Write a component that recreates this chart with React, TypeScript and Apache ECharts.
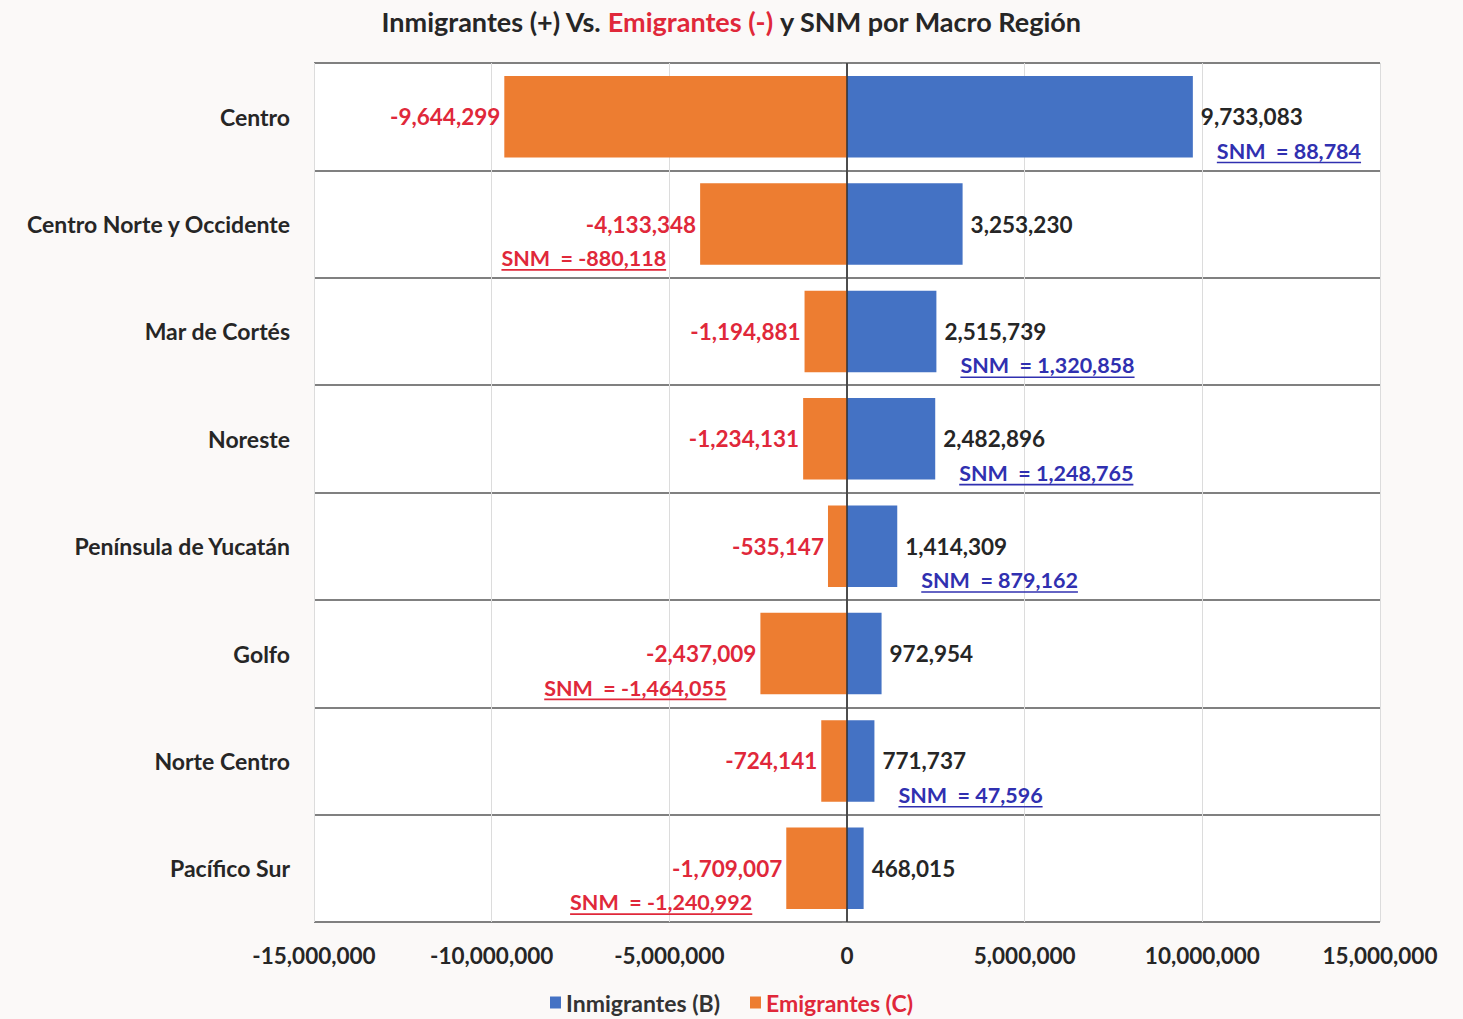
import React, { useEffect, useRef } from "react";
import * as echarts from "echarts";

const categories = [
  "Centro",
  "Centro Norte y Occidente",
  "Mar de Cortés",
  "Noreste",
  "Península de Yucatán",
  "Golfo",
  "Norte Centro",
  "Pacífico Sur",
];
const inmigrantes = [9733083, 3253230, 2515739, 2482896, 1414309, 972954, 771737, 468015];
const emigrantes = [-9644299, -4133348, -1194881, -1234131, -535147, -2437009, -724141, -1709007];
const snm = [88784, -880118, 1320858, 1248765, 879162, -1464055, 47596, -1240992];
const xTicks = [-15000000, -10000000, -5000000, 0, 5000000, 10000000, 15000000];

const FONT = "Lato, 'Noto Sans', sans-serif";
const BLUE = "#4472C4";
const ORANGE = "#ED7D31";
const RED = "#E0283A";
const SNM_BLUE = "#3030B0";

const fmt = (v: number) => (v < 0 ? "-" : "") + Math.abs(Math.round(v)).toLocaleString("en-US");

let measureCtx: CanvasRenderingContext2D | null = null;
function textWidth(text: string, font: string) {
  if (!measureCtx) measureCtx = document.createElement("canvas").getContext("2d");
  if (!measureCtx) return text.length * 11;
  measureCtx.font = font;
  return measureCtx.measureText(text).width;
}

export default function App() {
  const ref = useRef<HTMLDivElement>(null);

  useEffect(() => {
    document.body.style.margin = "0";
    document.body.style.overflow = "hidden";
    if (!ref.current) return;
    const chart = echarts.init(ref.current, null, { renderer: "svg" });

    const snmData = snm.map((s, i) => [s >= 0 ? inmigrantes[i] : emigrantes[i], i, s]);

    const option: any = {
      animation: false,
      backgroundColor: "#fbf9f8",
      title: {
        left: "center",
        top: 3,
        text: "{a|Inmigrantes (+) Vs. }{b|Emigrantes (-)}{a| y SNM por Macro Región}",
        textStyle: {
          rich: {
            a: { fontFamily: FONT, fontSize: 27, fontWeight: "bold", color: "#262626" },
            b: { fontFamily: FONT, fontSize: 27, fontWeight: "bold", color: RED },
          },
        },
      },
      legend: {
        bottom: 0,
        left: "center",
        icon: "rect",
        itemWidth: 11,
        itemHeight: 12,
        itemGap: 30,
        textStyle: { fontFamily: FONT, fontSize: 23, fontWeight: "bold", color: "#333" },
        data: [
          { name: "Inmigrantes (B)", textStyle: { color: "#333" } },
          { name: "Emigrantes (C)", textStyle: { color: RED } },
        ],
      },
      grid: {
        left: 314,
        right: 83,
        top: 63,
        bottom: 97,
        show: true,
        backgroundColor: "#ffffff",
        borderWidth: 0,
      },
      xAxis: {
        type: "value",
        min: xTicks[0],
        max: xTicks[xTicks.length - 1],
        interval: 5000000,
        axisLine: { show: false },
        axisTick: { show: false },
        splitLine: { show: true, lineStyle: { color: "#dcdcdc", width: 1 } },
        axisLabel: {
          margin: 22,
          fontFamily: FONT,
          fontSize: 22.5,
          fontWeight: "bold",
          color: "#262626",
          formatter: (v: number) => fmt(v),
        },
      },
      yAxis: {
        type: "category",
        inverse: true,
        data: categories,
        axisLine: { show: true, lineStyle: { color: "#8c8c8c", width: 1.5 } },
        axisTick: { show: true, length: 5, lineStyle: { color: "#8c8c8c" } },
        splitLine: { show: true, lineStyle: { color: "#808080", width: 1.8 } },
        axisLabel: {
          margin: 24,
          fontFamily: FONT,
          fontSize: 23,
          fontWeight: "bold",
          color: "#262626",
        },
      },
      series: [
        {
          name: "Inmigrantes (B)",
          type: "bar",
          data: inmigrantes,
          barWidth: "76%",
          barGap: "-100%",
          itemStyle: { color: BLUE },
          label: {
            show: true,
            position: "right",
            distance: 8,
            fontFamily: FONT,
            fontSize: 22.5,
            fontWeight: "bold",
            color: "#262626",
            formatter: (p: any) => fmt(p.value),
          },
          markLine: {
            silent: true,
            symbol: "none",
            label: { show: false },
            lineStyle: { color: "#303030", type: "solid", width: 1.5 },
            data: [{ xAxis: 0 }],
          },
          z: 3,
        },
        {
          name: "Emigrantes (C)",
          type: "bar",
          data: emigrantes,
          barWidth: "76%",
          barGap: "-100%",
          itemStyle: { color: ORANGE },
          label: {
            show: true,
            position: "left",
            distance: 4,
            fontFamily: FONT,
            fontSize: 22.5,
            fontWeight: "bold",
            color: RED,
            formatter: (p: any) => fmt(p.value),
          },
          z: 3,
        },
        {
          name: "SNM",
          type: "custom",
          coordinateSystem: "cartesian2d",
          encode: { x: 0, y: 1 },
          data: snmData,
          z: 5,
          renderItem: (params: any, api: any) => {
            const anchor = api.value(0);
            const idx = api.value(1);
            const s = api.value(2);
            const pt = api.coord([anchor, idx]);
            const positive = s >= 0;
            const text = "SNM  = " + fmt(s);
            const font = `bold 21.5px ${FONT}`;
            const w = textWidth(text, font);
            const color = positive ? SNM_BLUE : RED;
            const x0 = positive ? pt[0] + 24 : pt[0] - 34 - w;
            const yc = pt[1] + 34;
            return {
              type: "group",
              children: [
                {
                  type: "text",
                  x: x0,
                  y: yc,
                  style: {
                    text,
                    fill: color,
                    font,
                    align: "left",
                    verticalAlign: "middle",
                    textAlign: "left",
                    textVerticalAlign: "middle",
                  },
                },
                {
                  type: "rect",
                  shape: { x: x0, y: yc + 11, width: w, height: 1.6 },
                  style: { fill: color },
                },
              ],
            };
          },
        },
      ],
    };

    chart.setOption(option);
    return () => chart.dispose();
  }, []);

  return <div ref={ref} style={{ width: 1463, height: 1019 }} />;
}
